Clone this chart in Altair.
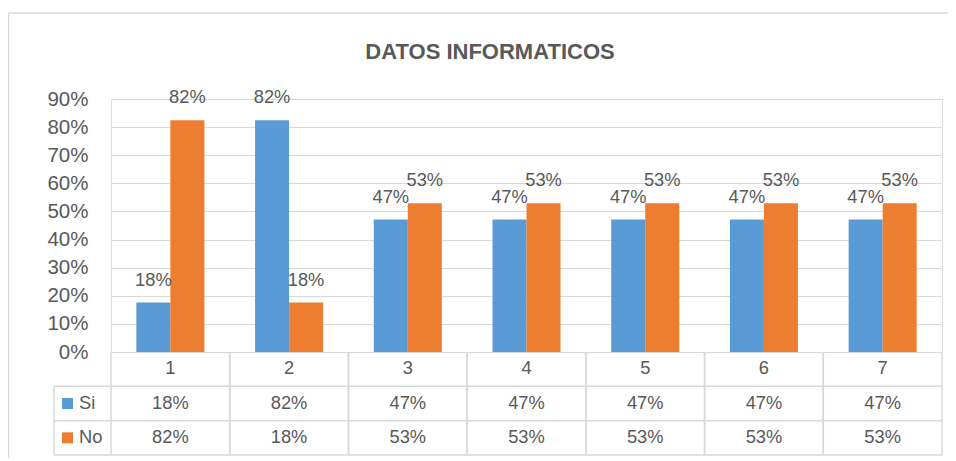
import altair as alt
import pandas as pd

# ---------------- data ----------------
categories = ["1", "2", "3", "4", "5", "6", "7"]
series = ["Si", "No"]
si_values = [0.176, 0.824, 0.471, 0.471, 0.471, 0.471, 0.471]
no_values = [0.824, 0.176, 0.529, 0.529, 0.529, 0.529, 0.529]
y_ticks = [0.0, 0.1, 0.2, 0.3, 0.4, 0.5, 0.6, 0.7, 0.8, 0.9]
title_text = "DATOS INFORMATICOS"
colors = ["#5B9BD5", "#ED7D31"]

# ---------------- style ----------------
W, H = 831, 253
TEXT = "#595959"
GRID = "#D9D9D9"
FONT = "Liberation Sans"
TABLE_RANGE = [H, H + 103]

bars_df = pd.DataFrame({
    "cat": categories * 2,
    "serie": [series[0]] * len(categories) + [series[1]] * len(categories),
    "value": si_values + no_values,
})

x_scale = alt.Scale(domain=categories, paddingInner=0, paddingOuter=0)
x_enc = alt.X("cat:N", scale=x_scale, axis=None)
xoff_enc = alt.XOffset("serie:N", scale=alt.Scale(domain=series, paddingInner=0, paddingOuter=0.745))
color_enc = alt.Color("serie:N", scale=alt.Scale(domain=series, range=colors), legend=None)

y_bar_scale = alt.Scale(domain=[0, 0.9], nice=False, zero=True)

bars = alt.Chart(bars_df).mark_bar().encode(
    x=x_enc,
    xOffset=xoff_enc,
    y=alt.Y("value:Q", scale=y_bar_scale,
            axis=alt.Axis(values=y_ticks, format=".0%", grid=True, gridColor=GRID,
                          gridWidth=1.2, ticks=False, domain=False, labelPadding=23,
                          labelFontSize=20.5, labelColor=TEXT, labelFont=FONT,
                          labelBaseline="middle", title=None)),
    color=color_enc,
)

labels = alt.Chart(bars_df).mark_text(
    dy=-17, baseline="alphabetic", fontSize=18.3, font=FONT, color=TEXT
).encode(
    x=x_enc,
    xOffset=xoff_enc,
    y=alt.Y("value:Q", scale=y_bar_scale, axis=None),
    text=alt.Text("value:Q", format=".0%"),
)

# ---------------- data table ----------------
table_scale = alt.Scale(domain=[0, 3], range=TABLE_RANGE, nice=False, zero=False)

cells = []
for c in categories:
    cells.append({"cat": c, "row": 0.5, "label": c})
for c, v in zip(categories, si_values):
    cells.append({"cat": c, "row": 1.5, "label": f"{round(v * 100)}%"})
for c, v in zip(categories, no_values):
    cells.append({"cat": c, "row": 2.5, "label": f"{round(v * 100)}%"})
cells_df = pd.DataFrame(cells)

table_text = alt.Chart(cells_df).mark_text(
    baseline="middle", align="center", fontSize=18.3, font=FONT, color=TEXT
).encode(
    x=x_enc,
    y=alt.Y("row:Q", scale=table_scale, axis=None),
    text="label:N",
)

hlines_df = pd.DataFrame({"row": [1, 2, 3]})
hlines = alt.Chart(hlines_df).mark_rule(color=GRID, strokeWidth=1.5).encode(
    y=alt.Y("row:Q", scale=table_scale, axis=None),
    x=alt.value(-57),
    x2=alt.value(W),
)

vl_df = pd.DataFrame({"cat": categories, "y0": [0] * 7, "y1": [3] * 7})
vlines_start = alt.Chart(vl_df).mark_rule(color=GRID, strokeWidth=1.5).encode(
    x=alt.X("cat:N", scale=x_scale, axis=None, bandPosition=0),
    y=alt.Y("y0:Q", scale=table_scale, axis=None),
    y2="y1:Q",
)
vlines_end = alt.Chart(vl_df).mark_rule(color=GRID, strokeWidth=1.5).encode(
    x=alt.X("cat:N", scale=x_scale, axis=None, bandPosition=1),
    y=alt.Y("y0:Q", scale=table_scale, axis=None),
    y2="y1:Q",
)
left_df = pd.DataFrame({"y0": [1], "y1": [3]})
vline_left = alt.Chart(left_df).mark_rule(color=GRID, strokeWidth=1.5).encode(
    x=alt.value(-57),
    y=alt.Y("y0:Q", scale=table_scale, axis=None),
    y2="y1:Q",
)

legend_df = pd.DataFrame({"serie": series, "row": [1.5, 2.5]})
legend_sq = alt.Chart(legend_df).mark_square(size=121, opacity=1).encode(
    x=alt.value(-43.5),
    y=alt.Y("row:Q", scale=table_scale, axis=None),
    color=color_enc,
)
legend_txt = alt.Chart(legend_df).mark_text(
    align="left", baseline="middle", fontSize=18.3, font=FONT, color=TEXT
).encode(
    x=alt.value(-32),
    y=alt.Y("row:Q", scale=table_scale, axis=None),
    text="serie:N",
)

# ---------------- title & frame ----------------
title_df = pd.DataFrame({"t": [title_text]})
title = alt.Chart(title_df).mark_text(
    fontSize=22, fontWeight="bold", font=FONT, color=TEXT, align="center", baseline="alphabetic"
).encode(
    x=alt.value(379),
    y=alt.value(-40),
    text="t:N",
)

frame_df = pd.DataFrame({"f": [1]})
frame_top = alt.Chart(frame_df).mark_rule(color=GRID, strokeWidth=1.5).encode(
    x=alt.value(-102.5), x2=alt.value(W + 6), y=alt.value(-86),
)
frame_left = alt.Chart(frame_df).mark_rule(color=GRID, strokeWidth=1.5).encode(
    x=alt.value(-102.5), y=alt.value(-86), y2=alt.value(380),
)

chart = alt.layer(
    frame_top, frame_left, bars, labels, hlines, vlines_start, vlines_end, vline_left,
    table_text, legend_sq, legend_txt, title
).resolve_scale(y="independent").properties(
    width=W, height=H,
    autosize=alt.AutoSizeParams(type="none"),
    padding={"left": 103, "top": 91, "right": 6, "bottom": 106},
).configure_view(stroke=None).configure(background="white")

chart.save("out.html", embed_options={"renderer": "svg", "actions": False})
